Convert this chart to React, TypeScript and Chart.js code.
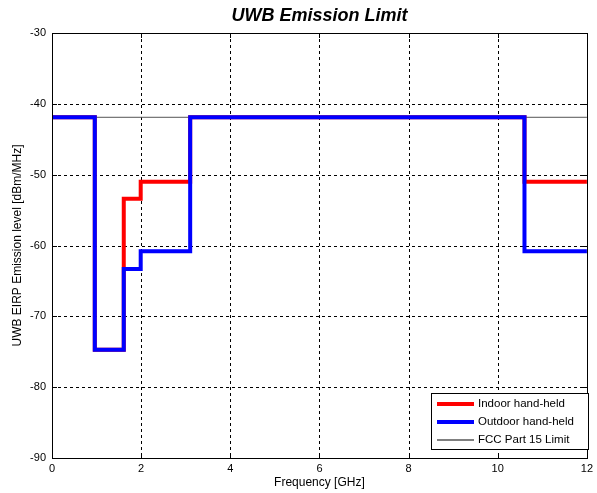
import React, { useEffect, useRef } from "react";
import { Chart, registerables } from "chart.js";

Chart.register(...registerables);

// Band edges (GHz)
const bandEdges = [0, 0.96, 1.61, 1.99, 3.1, 10.6, 12];
// Levels (dBm/MHz) per band
const indoorLevels = [-41.9, -74.7, -53.4, -51.0, -41.9, -51.0];
const outdoorLevels = [-41.9, -74.7, -63.3, -60.8, -41.9, -60.8];
const fccLevel = -41.9;
const xTicks = [0, 2, 4, 6, 8, 10, 12];
const yTicks = [-90, -80, -70, -60, -50, -40, -30];
const seriesNames = ["Indoor hand-held", "Outdoor hand-held", "FCC Part 15 Limit"];

const FONT = "'Liberation Sans', Arial, sans-serif";

function stepPoints(levels: number[]) {
  const pts: { x: number; y: number }[] = [];
  for (let i = 0; i < levels.length; i++) {
    pts.push({ x: bandEdges[i], y: levels[i] });
    pts.push({ x: bandEdges[i + 1], y: levels[i] });
  }
  return pts;
}

const decorPlugin = {
  id: "decor",
  beforeDatasetsDraw(chart: any) {
    const { ctx, chartArea: a, scales } = chart;
    const xs = scales.x, ys = scales.y;
    ctx.save();
    ctx.strokeStyle = "#000";
    ctx.lineWidth = 1;
    ctx.setLineDash([3, 3]);
    xTicks.forEach((v) => {
      const px = Math.round(xs.getPixelForValue(v)) + 0.5;
      if (px <= a.left + 1 || px >= a.right - 1) return;
      ctx.beginPath();
      ctx.moveTo(px, a.top);
      ctx.lineTo(px, a.bottom);
      ctx.stroke();
    });
    yTicks.forEach((v) => {
      const py = Math.round(ys.getPixelForValue(v)) + 0.5;
      if (py <= a.top + 1 || py >= a.bottom - 1) return;
      ctx.beginPath();
      ctx.moveTo(a.left, py);
      ctx.lineTo(a.right, py);
      ctx.stroke();
    });
    ctx.restore();
  },
  afterDraw(chart: any) {
    const { ctx, chartArea: a, scales } = chart;
    const xs = scales.x, ys = scales.y;
    ctx.save();
    // border
    ctx.strokeStyle = "#000";
    ctx.lineWidth = 1;
    ctx.setLineDash([]);
    ctx.strokeRect(Math.round(a.left) + 0.5, Math.round(a.top) + 0.5, Math.round(a.right - a.left), Math.round(a.bottom - a.top));
    // inward ticks
    xTicks.forEach((v) => {
      const px = Math.round(xs.getPixelForValue(v)) + 0.5;
      ctx.beginPath();
      ctx.moveTo(px, a.bottom); ctx.lineTo(px, a.bottom - 5);
      ctx.moveTo(px, a.top); ctx.lineTo(px, a.top + 5);
      ctx.stroke();
    });
    yTicks.forEach((v) => {
      const py = Math.round(ys.getPixelForValue(v)) + 0.5;
      ctx.beginPath();
      ctx.moveTo(a.left, py); ctx.lineTo(a.left + 5, py);
      ctx.moveTo(a.right, py); ctx.lineTo(a.right - 5, py);
      ctx.stroke();
    });
    // title
    ctx.fillStyle = "#000";
    ctx.font = `italic bold 18px ${FONT}`;
    ctx.textAlign = "center";
    ctx.textBaseline = "middle";
    ctx.fillText("UWB Emission Limit", (a.left + a.right) / 2, 16);
    // axis titles
    ctx.font = `12px ${FONT}`;
    ctx.fillText("Frequency [GHz]", (a.left + a.right) / 2, 483);
    ctx.save();
    ctx.translate(18, (a.top + a.bottom) / 2);
    ctx.rotate(-Math.PI / 2);
    ctx.fillText("UWB EIRP Emission level [dBm/MHz]", 0, 0);
    ctx.restore();
    // legend
    const lx = 431, ly = 393, lw = 157, lh = 56;
    ctx.fillStyle = "#fff";
    ctx.fillRect(lx, ly, lw, lh);
    ctx.strokeStyle = "#000";
    ctx.strokeRect(lx + 0.5, ly + 0.5, lw, lh);
    const ds = chart.data.datasets;
    const rows = [0, 1, 2];
    rows.forEach((di, i) => {
      const y = ly + 11 + i * 18;
      ctx.strokeStyle = di === 2 ? "#000" : ds[di].borderColor;
      ctx.lineWidth = ds[di].borderWidth;
      ctx.beginPath();
      ctx.moveTo(lx + 6, y);
      ctx.lineTo(lx + 43, y);
      ctx.stroke();
      ctx.fillStyle = "#000";
      ctx.font = `11.5px ${FONT}`;
      ctx.textAlign = "left";
      ctx.textBaseline = "middle";
      ctx.fillText(ds[di].label, lx + 47, y);
    });
    ctx.restore();
  },
};

export default function App() {
  const ref = useRef<HTMLCanvasElement>(null);
  useEffect(() => {
    if (!ref.current) return;
    const chart = new Chart(ref.current, {
      type: "line",
      data: {
        datasets: [
          {
            label: seriesNames[0],
            data: stepPoints(indoorLevels),
            borderColor: "#ff0000",
            borderWidth: 4,
            pointRadius: 0,
            order: 1,
          },
          {
            label: seriesNames[1],
            data: stepPoints(outdoorLevels),
            borderColor: "#0000ff",
            borderWidth: 4,
            pointRadius: 0,
            order: 0,
          },
          {
            label: seriesNames[2],
            data: [
              { x: bandEdges[0], y: fccLevel },
              { x: bandEdges[bandEdges.length - 1], y: fccLevel },
            ],
            borderColor: "#555555",
            borderWidth: 1,
            pointRadius: 0,
            order: 2,
          },
        ],
      },
      options: {
        animation: false,
        responsive: false,
        events: [],
        layout: { padding: { left: 0, top: 33, right: 7, bottom: 0 } },
        plugins: { legend: { display: false }, tooltip: { enabled: false }, title: { display: false } },
        scales: {
          x: {
            type: "linear",
            min: 0,
            max: 12,
            grid: { display: false, drawTicks: false, tickLength: 0 },
            border: { display: false },
            afterFit: (s: any) => { s.height = 35; },
            afterBuildTicks: (s: any) => { s.ticks = xTicks.map((v) => ({ value: v })); },
            ticks: { color: "#000", font: { family: FONT, size: 11 }, padding: 4, maxRotation: 0 },
          },
          y: {
            type: "linear",
            min: -90,
            max: -30,
            grid: { display: false, drawTicks: false, tickLength: 0 },
            border: { display: false },
            afterFit: (s: any) => { s.width = 52; },
            afterBuildTicks: (s: any) => { s.ticks = yTicks.map((v) => ({ value: v })); },
            ticks: { color: "#000", font: { family: FONT, size: 11 }, padding: 6 },
          },
        },
      },
      plugins: [decorPlugin],
    } as any);
    return () => chart.destroy();
  }, []);
  return (
    <div style={{ position: "fixed", left: 0, top: 0, width: 597, height: 493, background: "#fff" }}>
      <canvas ref={ref} width={597} height={493} style={{ display: "block" }} />
    </div>
  );
}
